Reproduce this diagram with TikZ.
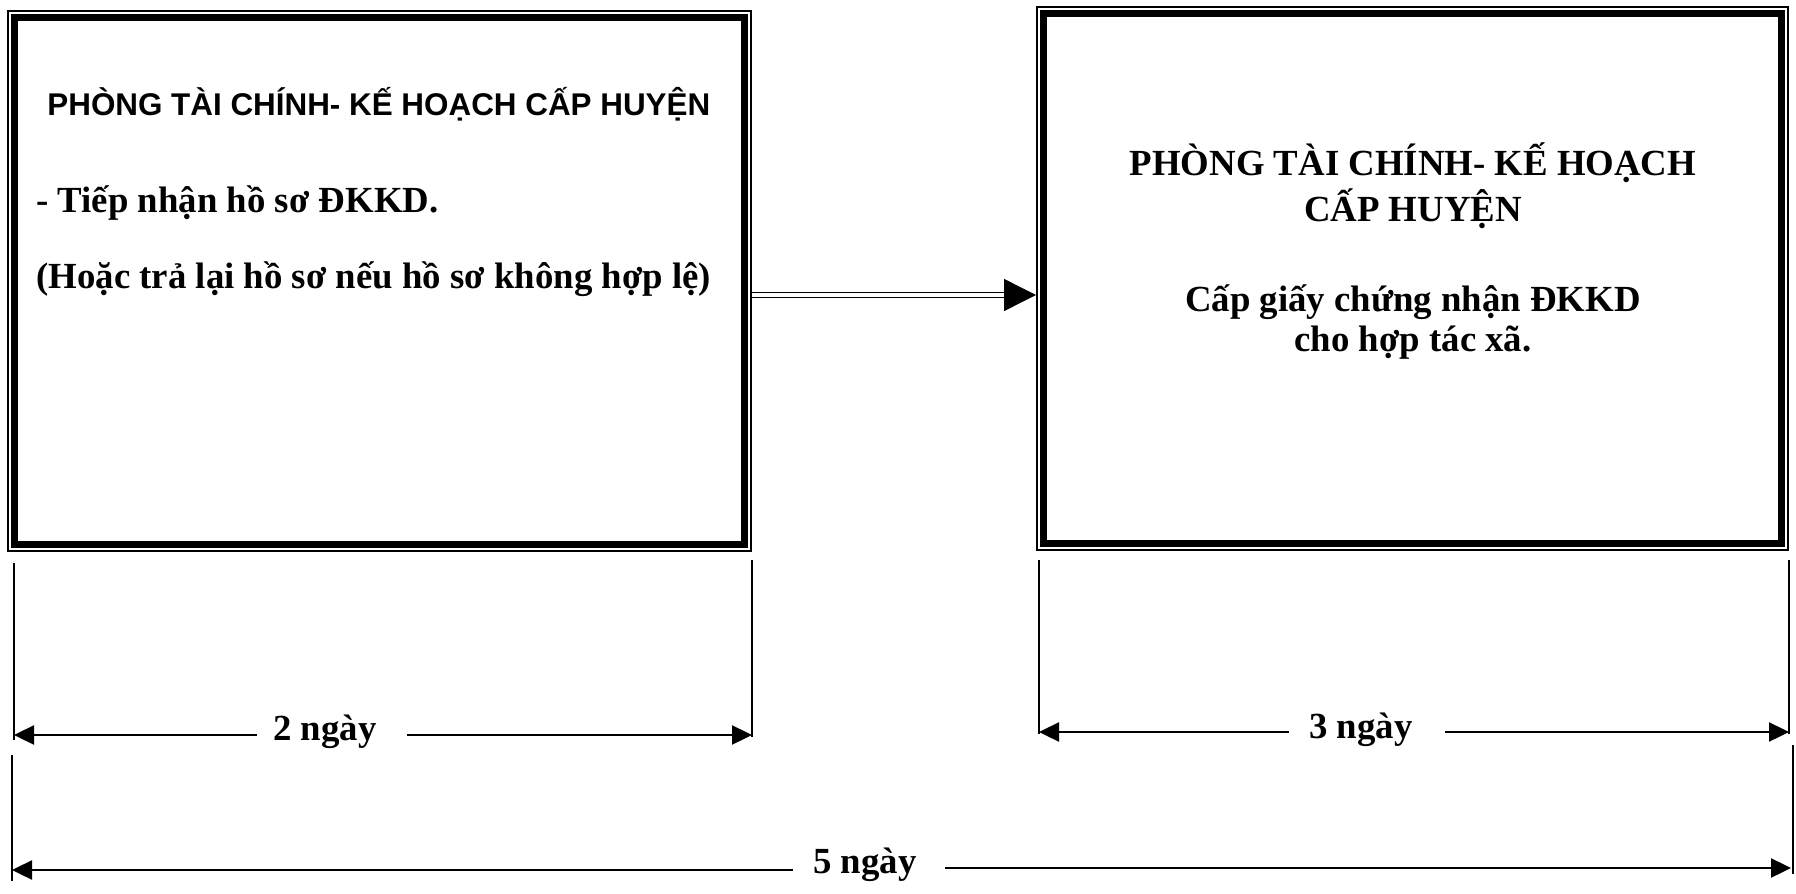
\documentclass[tikz,border=0pt]{standalone}
\usepackage{fontspec}
\setmainfont{Liberation Serif}
\newfontfamily\headfont{Liberation Sans}
\usetikzlibrary{arrows.meta,calc,positioning}
\tikzset{
  every picture/.style={line join=miter},
  % Kästen: dünne Aussenlinie, dicke Innenlinie
  box/.style={draw, line width=1pt, inner sep=0pt},
  boxin/.style={line width=3.3pt},
  % Schrift
  txt/.style={font=\bfseries\fontsize{18.4}{23}\selectfont, inner sep=0pt},
  head/.style={font=\headfont\bfseries\fontsize{15.7}{19}\selectfont, inner sep=0pt},
  % Verbindung und Bemaßung
  link/.style={double, double distance=1.6pt, line width=0.7pt, shorten >=15pt},
  tip/.style={line width=0.7pt, -{Triangle[length=16pt,width=16pt]}},
  dim/.style={line width=1.2pt, -{Triangle[length=10pt,width=9.5pt]}},
  ext/.style={line width=0.75pt},
}

\begin{document}
\begin{tikzpicture}[x=0.5pt,y=-0.5pt]
  \useasboundingbox (0,0) rectangle (1796,894);
  % Kästen
  \node[box, minimum width=371.5pt, minimum height=270pt] (lbox) at (379.5,281) {};
  \node[box, minimum width=375.5pt, minimum height=271.5pt] (rbox) at (1412.5,278.5) {};
  \foreach \b in {lbox,rbox}
    \draw[boxin] ([shift={(3.7pt,-3.7pt)}]\b.north west) rectangle ([shift={(-3.7pt,3.7pt)}]\b.south east);
  % Text links
  \node[head, anchor=base west] (lhead) at (47,115) {PHÒNG TÀI CHÍNH- KẾ HOẠCH CẤP HUYỆN};
  \node[txt, anchor=base west] (lrecv) at (36,212) {- Tiếp nhận hồ sơ ĐKKD.};
  \node[txt, anchor=base west] (lret) at (36,288) {(Hoặc trả lại hồ sơ nếu hồ sơ không hợp lệ)};
  % Text rechts
  \node[txt, anchor=base] (rhead) at (1413,175) {PHÒNG TÀI CHÍNH- KẾ HOẠCH};
  \node[txt, anchor=base] (rlevel) at (1413,221) {CẤP HUYỆN};
  \node[txt, anchor=base] (rissue) at (1413,311.5) {Cấp giấy chứng nhận ĐKKD};
  \node[txt, anchor=base] (rcoop) at (1413,351.5) {cho hợp tác xã.};
  % Pfeil zwischen den Kästen
  \coordinate (from) at ([yshift=-7pt]lbox.east);
  \draw[link] (from) -- (from -| rbox.west);
  \draw[tip] ([xshift=-16pt]from -| rbox.west) -- (from -| rbox.west);
  % Hilfslinien
  \coordinate (e1t) at (14,563);   \coordinate (e1b) at (14,740);
  \coordinate (e2t) at (752,560);  \coordinate (e2b) at (752,737);
  \coordinate (e3t) at (1039,560); \coordinate (e3b) at (1039,734);
  \coordinate (e4t) at (1789,560); \coordinate (e4b) at (1789,734);
  \coordinate (e5t) at (12,755);   \coordinate (e5b) at (12,881);
  \coordinate (e6t) at (1793,745); \coordinate (e6b) at (1793,874);
  \foreach \e in {1,...,6}
    \draw[ext] (e\e t) -- (e\e b);
  % Bemaßung
  \coordinate (a2l) at (14,735);   \coordinate (a2r) at (752,735);
  \coordinate (a3l) at (1039,732); \coordinate (a3r) at (1789,732);
  \coordinate (a5l) at (12,870);   \coordinate (a5r) at (1791,868);
  \node[txt, anchor=base] (d2) at (325,740) {2 ngày};
  \node[txt, anchor=base] (d3) at (1361,738) {3 ngày};
  \node[txt, anchor=base] (d5) at (865,873) {5 ngày};
  \draw[dim] ([xshift=-8pt]a2l -| d2.west) -- (a2l);
  \draw[dim] ([xshift=15pt]a2r -| d2.east) -- (a2r);
  \draw[dim] ([xshift=-10pt]a3l -| d3.west) -- (a3l);
  \draw[dim] ([xshift=16pt]a3r -| d3.east) -- (a3r);
  \draw[dim] ([xshift=-10pt]a5l -| d5.west) -- (a5l);
  \draw[dim] ([xshift=14pt]a5r -| d5.east) -- (a5r);
\end{tikzpicture}
\end{document}
